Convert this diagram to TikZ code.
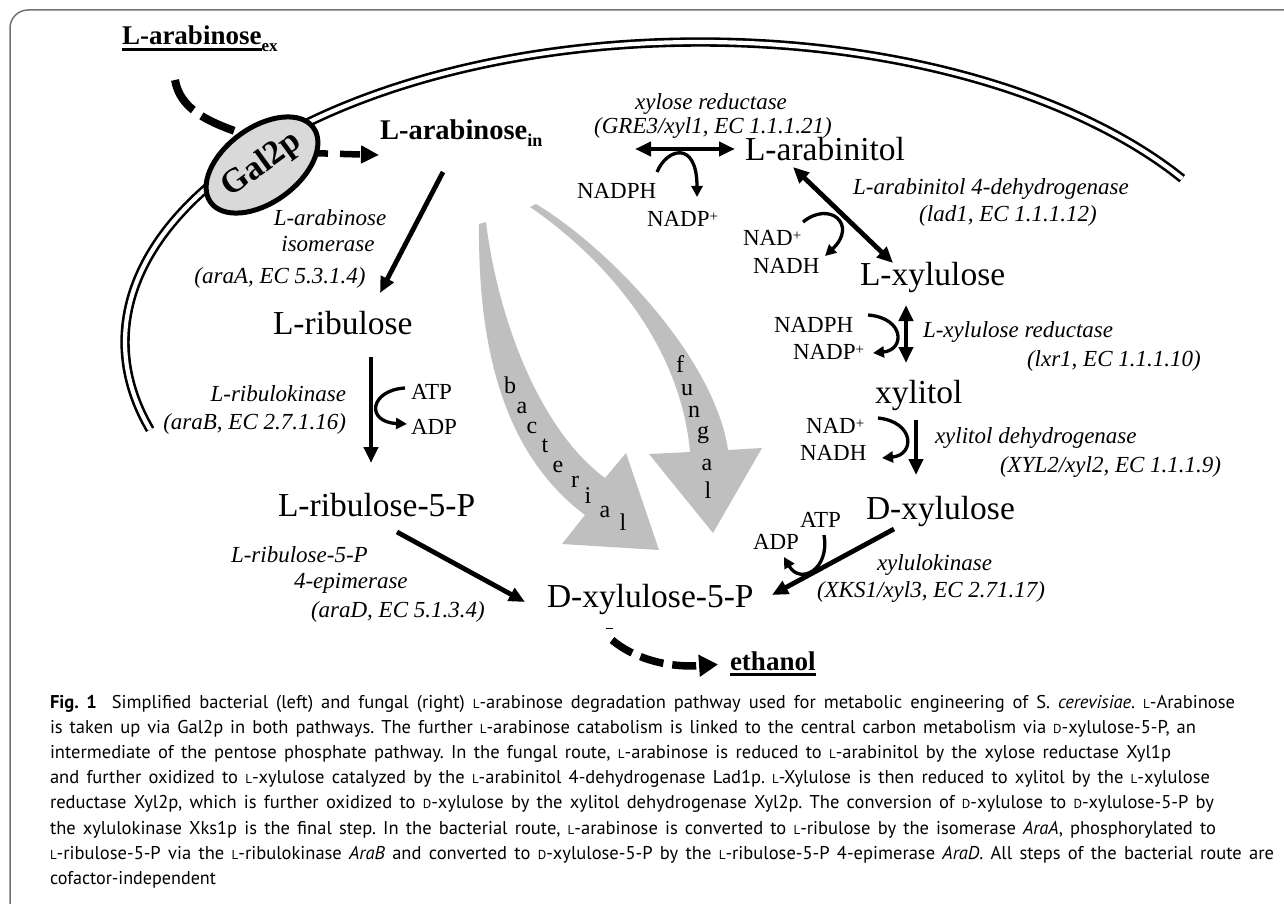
\documentclass[tikz,border=0pt]{standalone}
\usepackage{fontspec}
\setmainfont{Liberation Serif}
\newfontfamily\capfont{PT Sans}
\usepackage{graphicx}
\usetikzlibrary{arrows.meta,shapes.geometric}
\definecolor{framegray}{gray}{0.45}
\definecolor{bandgray}{gray}{0.75}
\definecolor{galgray}{gray}{0.85}
\newcommand\metfont{\fontsize{33.5}{36}\selectfont}
\newcommand\enzfont{\fontsize{23}{26}\selectfont\itshape}
\newcommand\cofont{\fontsize{23}{26}\selectfont}
\newcommand\labbold{\fontsize{27}{30}\selectfont\bfseries}
\newcommand\lettfont{\fontsize{24}{26}\selectfont}
\newcommand\capsz{\capfont\fontsize{18.5}{25}\selectfont\frenchspacing}
\newcommand\Lsc{{\fontsize{13}{13}\selectfont L}}
\newcommand\Dsc{{\fontsize{13}{13}\selectfont D}}
\newcommand\plussup{\raisebox{5pt}{\fontsize{15}{15}\selectfont +}}
\newcommand\thickul[1]{\setbox0\hbox{#1}\rlap{\rule[-6pt]{\wd0}{2.8pt}}\box0}
\newcommand\capline[2]{\setbox2\hbox{#2}\ifdim\wd2>#1\relax\resizebox{#1}{\height}{\box2}\else\makebox[#1][s]{#2}\fi}
\begin{document}
\begin{tikzpicture}[x=1pt,y=-1pt,
  every node/.style={inner sep=0pt, outer sep=0pt},
  mainarrow/.style={line width=4.8pt, -{Triangle[length=16pt,width=14pt]}},
  bothmain/.style={line width=4.8pt, {Triangle[length=16pt,width=14pt]}-{Triangle[length=16pt,width=14pt]}},
  cofarrow/.style={line width=3.3pt, -{Triangle[length=11pt,width=11pt]}},
  metab/.style={font=\metfont, anchor=base west},
  enz/.style={font=\enzfont},
  cof/.style={font=\cofont, anchor=base west},
  lett/.style={font=\lettfont, anchor=base},
  capl/.style={font=\capsz, anchor=base west}]
\useasboundingbox (0,0) rectangle (1284,904);
\fill[white] (0,0) rectangle (1284,904);
% frame
\draw[framegray, line width=1.5pt, rounded corners=18pt] (10,920) -- (10,10) -- (1300,10);
% grey pathway arrows
\fill[bandgray] (479,224) .. controls (478,335) and (498,450) .. (585,515) -- (562,544) -- (659,550) -- (626,453) -- (605,478) .. controls (540,430) and (498,320) .. (486,222) -- cycle;
\fill[bandgray] (536,204) .. controls (612,250) and (715,360) .. (728,450) -- (762,448) -- (713,533) -- (649,454) -- (690,452) .. controls (680,340) and (600,255) .. (530,207) -- cycle;
% membrane
\draw[line width=2.6pt, double=white, double distance=4.2pt] plot[smooth, domain=33:197, samples=80] ({700+575*cos(\x)},{342-300*sin(\x)});
% uptake
\coordinate (upS) at (175,80);
\coordinate (upE) at (250,136);
\coordinate (inS) at (308,153);
\coordinate (inE) at (379,155);
\draw[line width=8pt, dash pattern=on 36pt off 10pt] (upS) .. controls (180,108) and (205,122) .. (upE);
\draw[line width=6.5pt, dash pattern=on 20pt off 12pt, -{Triangle[length=18pt,width=17pt]}] (inS) -- (inE);
\node[ellipse, draw, line width=5pt, fill=galgray, minimum width=127pt, minimum height=75pt, rotate=36, font=\fontsize{34}{36}\selectfont\bfseries] (gal) at (262,165) {Gal2p};
% labels bold
\node[font=\labbold, anchor=base west] (arex) at (122,45) {\thickul{L-arabinose}\raisebox{-7pt}{\fontsize{17}{17}\selectfont ex}};
\node[font=\fontsize{28.5}{30}\selectfont\bfseries, anchor=base west] (arin) at (380,140) {L-arabinose\raisebox{-7pt}{\fontsize{18}{18}\selectfont in}};
\node[font=\labbold, anchor=base west] (eth) at (730,670) {\thickul{ethanol}};
% metabolites
\node[metab] (arbt) at (745,161) {L-arabinitol};
\node[metab] (lxyl) at (860,285) {L-xylulose};
\node[metab] (xylt) at (875,403) {xylitol};
\node[metab] (dxyl) at (866,519) {D-xylulose};
\node[metab] (dx5p) at (547,607) {D-xylulose-5-P};
\node[metab] (lr5p) at (278,516) {L-ribulose-5-P};
\node[metab] (lrib) at (273,334) {L-ribulose};
% enzymes
\node[enz, anchor=base] (e1a) at (711,110) {xylose reductase};
\node[enz, anchor=base] (e1b) at (713,134) {(GRE3/xyl1, EC 1.1.1.21)};
\node[enz, anchor=base] (e2a) at (991,194) {L-arabinitol 4-dehydrogenase};
\node[enz, anchor=base] (e2b) at (1008,221) {(lad1, EC 1.1.1.12)};
\node[enz, anchor=base west] (e3a) at (923,337) {L-xylulose reductase};
\node[enz, anchor=base west] (e3b) at (1027,366) {(lxr1, EC 1.1.1.10)};
\node[enz, anchor=base west] (e4a) at (935,443) {xylitol dehydrogenase};
\node[enz, anchor=base west] (e4b) at (1000,472) {(XYL2/xyl2, EC 1.1.1.9)};
\node[enz, anchor=base west] (e5a) at (877,570) {xylulokinase};
\node[enz, anchor=base west] (e5b) at (817,597) {(XKS1/xyl3, EC 2.71.17)};
\node[enz, anchor=base] (e6a) at (330,225) {L-arabinose};
\node[enz, anchor=base] (e6b) at (328,251) {isomerase};
\node[enz, anchor=base] (e6c) at (280,283) {(araA, EC 5.3.1.4)};
\node[enz, anchor=base east] (e7a) at (346,401) {L-ribulokinase};
\node[enz, anchor=base east] (e7b) at (346,429) {(araB, EC 2.7.1.16)};
\node[enz, anchor=base west] (e8a) at (231,562) {L-ribulose-5-P};
\node[enz, anchor=base west] (e8b) at (294,588) {4-epimerase};
\node[enz, anchor=base west] (e8c) at (311,617) {(araD, EC 5.1.3.4)};
% cofactors
\node[cof] (c1a) at (577,199) {NADPH};
\node[cof] (c1b) at (647,226) {NADP\plussup};
\node[cof] (c2a) at (743,245) {NAD\plussup};
\node[cof] (c2b) at (753,273) {NADH};
\node[cof] (c3a) at (774,332) {NADPH};
\node[cof] (c3b) at (793,359) {NADP\plussup};
\node[cof] (c4a) at (806,433) {NAD\plussup};
\node[cof] (c4b) at (800,460) {NADH};
\node[cof] (c5a) at (800,527) {ATP};
\node[cof] (c5b) at (753,549) {ADP};
\node[cof] (c6a) at (411,399) {ATP};
\node[cof] (c6b) at (411,434) {ADP};
% route letters
\node[lett] (b1) at (510,393) {b};
\node[lett] (b2) at (522,413) {a};
\node[lett] (b3) at (532,433) {c};
\node[lett] (b4) at (545,452) {t};
\node[lett] (b5) at (558,472) {e};
\node[lett] (b6) at (575,487) {r};
\node[lett] (b7) at (588,503) {i};
\node[lett] (b8) at (605,517) {a};
\node[lett] (b9) at (623,530) {l};
\node[lett] (f1) at (680,372) {f};
\node[lett] (f2) at (687,395) {u};
\node[lett] (f3) at (694,417) {n};
\node[lett] (f4) at (703,438) {g};
\node[lett] (f5) at (707,470) {a};
\node[lett] (f6) at (708,498) {l};
% main reaction arrows
\coordinate (r1s) at (443,172); \coordinate (r1e) at (380,293);
\coordinate (r2s) at (371,357); \coordinate (r2e) at (371,463);
\coordinate (r3s) at (397,532); \coordinate (r3e) at (525,602);
\coordinate (r4s) at (635,149); \coordinate (r4e) at (735,149);
\coordinate (r5s) at (793,167); \coordinate (r5e) at (893,263);
\coordinate (r6s) at (906,305); \coordinate (r6e) at (906,363);
\coordinate (r7s) at (916,420); \coordinate (r7e) at (916,475);
\coordinate (r8s) at (894,529); \coordinate (r8e) at (772,595);
\draw[mainarrow] (r1s) -- (r1e);
\draw[mainarrow] (r2s) -- (r2e);
\draw[mainarrow] (r3s) -- (r3e);
\draw[bothmain] (r4s) -- (r4e);
\draw[bothmain] (r5s) -- (r5e);
\draw[bothmain] (r6s) -- (r6e);
\draw[mainarrow] (r7s) -- (r7e);
\draw[mainarrow] (r8s) -- (r8e);
% cofactor arcs
\coordinate (k1s) at (657,172); \coordinate (k1e) at (697,197);
\coordinate (k2s) at (803,222); \coordinate (k2e) at (825,256);
\coordinate (k3s) at (868,315); \coordinate (k3e) at (873,353);
\coordinate (k4s) at (878,418); \coordinate (k4e) at (882,458);
\coordinate (k5s) at (824,535); \coordinate (k5e) at (784,557);
\coordinate (k6s) at (405,388); \coordinate (k6e) at (407,424);
\draw[cofarrow] (k1s) .. controls (667,148) and (697,140) .. (k1e);
\draw[cofarrow] (k2s) .. controls (830,200) and (858,225) .. (k2e);
\draw[cofarrow] (k3s) .. controls (905,318) and (905,350) .. (k3e);
\draw[cofarrow] (k4s) .. controls (915,422) and (915,455) .. (k4e);
\draw[cofarrow] (k5s) .. controls (830,570) and (800,585) .. (k5e);
\draw[cofarrow] (k6s) .. controls (370,390) and (365,422) .. (k6e);
% to ethanol
\coordinate (etS) at (612,640);
\draw[line width=1pt] (606,628) -- (613,628);
\draw[line width=7.5pt, dash pattern=on 24pt off 9pt, shorten >=12pt, -{Triangle[length=19pt,width=21pt]}] (etS) .. controls (632,657) and (665,668) .. (eth.west);
% caption
\node[capl] (cap1) at (50,708) {\capline{1185pt}{\textbf{Fig. 1}\hspace{7pt} Simplified bacterial (left) and fungal (right) \Lsc-arabinose degradation pathway used for metabolic engineering of S. \textit{cerevisiae}. \Lsc-Arabinose}};
\node[capl] (cap2) at (50,733) {\capline{1146pt}{is taken up via Gal2p in both pathways. The further \Lsc-arabinose catabolism is linked to the central carbon metabolism via \Dsc-xylulose-5-P, an}};
\node[capl] (cap3) at (50,758) {\capline{1121pt}{intermediate of the pentose phosphate pathway. In the fungal route, \Lsc-arabinose is reduced to \Lsc-arabinitol by the xylose reductase Xyl1p}};
\node[capl] (cap4) at (50,783) {\capline{1160pt}{and further oxidized to \Lsc-xylulose catalyzed by the \Lsc-arabinitol 4-dehydrogenase Lad1p. \Lsc-Xylulose is then reduced to xylitol by the \Lsc-xylulose}};
\node[capl] (cap5) at (50,808) {\capline{1164pt}{reductase Xyl2p, which is further oxidized to \Dsc-xylulose by the xylitol dehydrogenase Xyl2p. The conversion of \Dsc-xylulose to \Dsc-xylulose-5-P by}};
\node[capl] (cap6) at (50,834) {\capline{1166pt}{the xylulokinase Xks1p is the final step. In the bacterial route, \Lsc-arabinose is converted to \Lsc-ribulose by the isomerase \textit{AraA}, phosphorylated to}};
\node[capl] (cap7) at (50,859) {\capline{1224pt}{\Lsc-ribulose-5-P via the \Lsc-ribulokinase \textit{AraB} and converted to \Dsc-xylulose-5-P by the \Lsc-ribulose-5-P 4-epimerase \textit{AraD}. All steps of the bacterial route are}};
\node[capl] (cap8) at (50,884) {\capline{166pt}{cofactor-independent}};
\end{tikzpicture}
\end{document}
